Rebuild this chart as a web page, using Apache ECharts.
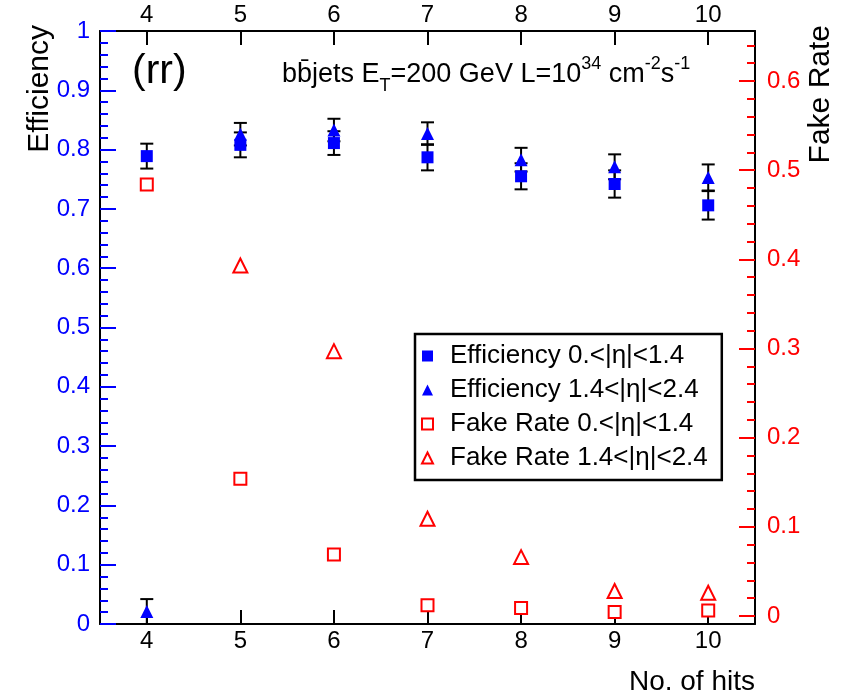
<!DOCTYPE html>
<html>
<head>
<meta charset="utf-8">
<script src="https://cdn.jsdelivr.net/npm/echarts@6/dist/echarts.min.js"></script>
<style>
  html, body { margin: 0; padding: 0; background: #ffffff; }
  #chart { width: 859px; height: 696px; }
</style>
</head>
<body>
<div id="chart"></div>
<script>
// Number of hits required on the track
const hits = [4, 5, 6, 7, 8, 9, 10];

// Efficiency, barrel region 0 < |eta| < 1.4
const effBarrel    = [0.789, 0.808, 0.811, 0.787, 0.755, 0.742, 0.706];
const effBarrelErr = [0.021, 0.021, 0.020, 0.022, 0.022, 0.023, 0.024];

// Efficiency, endcap region 1.4 < |eta| < 2.4
const effEndcap    = [0.021, 0.826, 0.833, 0.827, 0.783, 0.771, 0.753];
const effEndcapErr = [0.021, 0.019, 0.019, 0.019, 0.020, 0.021, 0.022];

// Fake rate (right-hand scale)
const fakeBarrel = [0.484, 0.154, 0.069, 0.012, 0.009, 0.0045, 0.006];
const fakeEndcap = [null, 0.393, 0.297, 0.109, 0.066, 0.028, 0.026];

// Tick values of the right-hand axis
const fakeMajorTicks = [0, 0.1, 0.2, 0.3, 0.4, 0.5, 0.6];
const fakeMinorTicks = [0.02, 0.04, 0.06, 0.08, 0.12, 0.14, 0.16, 0.18, 0.22, 0.24, 0.26, 0.28,
                        0.32, 0.34, 0.36, 0.38, 0.42, 0.44, 0.46, 0.48, 0.52, 0.54, 0.56, 0.58,
                        0.62, 0.64];

const names = [
  'Efficiency 0.<|η|<1.4',
  'Efficiency 1.4<|η|<2.4',
  'Fake Rate 0.<|η|<1.4',
  'Fake Rate 1.4<|η|<2.4'
];

const FONT = '"Liberation Sans", Arial, Helvetica, sans-serif';
const BLUE = '#0000ff';
const RED = '#ff0000';

function pairs(ys) {
  return hits.map((h, i) => ys[i] == null ? null : [h, ys[i]]).filter(p => p);
}
function bars(ys, errs) {
  return hits.map((h, i) => [h, Math.max(0, ys[i] - errs[i]), ys[i] + errs[i]]);
}

// Vertical error bar with end caps
function errorBar(params, api) {
  const x = api.value(0);
  const top = api.coord([x, api.value(2)]);
  const bot = api.coord([x, api.value(1)]);
  const half = 6.5;
  const st = { stroke: '#000000', lineWidth: 2 };
  return {
    type: 'group',
    children: [
      { type: 'line', shape: { x1: top[0], y1: top[1], x2: bot[0], y2: bot[1] }, style: st },
      { type: 'line', shape: { x1: top[0] - half, y1: top[1], x2: top[0] + half, y2: top[1] }, style: st },
      { type: 'line', shape: { x1: bot[0] - half, y1: bot[1], x2: bot[0] + half, y2: bot[1] }, style: st }
    ]
  };
}

const labelFmt = v => String(parseFloat(Number(v).toFixed(3)));

const chart = echarts.init(document.getElementById('chart'), null, { renderer: 'canvas' });

chart.setOption({
  animation: false,
  backgroundColor: '#ffffff',
  textStyle: { fontFamily: FONT },
  grid: { left: 100, right: 104, top: 31, bottom: 70, containLabel: false },
  legend: {
    orient: 'vertical',
    left: 415,
    top: 334,
    selectedMode: false,
    data: names,
    itemWidth: 11,
    itemHeight: 11,
    itemGap: 8,
    padding: [9, 14, 9, 6],
    borderColor: '#000000',
    borderWidth: 2.5,
    backgroundColor: '#ffffff',
    textStyle: { fontFamily: FONT, fontSize: 26, color: '#000000', padding: [0, 0, 0, 12], lineHeight: 22 }
  },
  xAxis: [
    {
      type: 'value', position: 'bottom', min: 3.5, max: 10.5,
      axisLine: { onZero: false, lineStyle: { color: '#000000', width: 2 } },
      axisTick: { inside: true, length: 14, customValues: hits, lineStyle: { color: '#000000', width: 2 } },
      axisLabel: { customValues: hits, fontSize: 24, color: '#000000', margin: 5, fontFamily: FONT },
      splitLine: { show: false },
      name: 'No. of hits',
      nameLocation: 'end',
      nameGap: 0,
      nameTextStyle: { fontSize: 28, color: '#000000', align: 'right', verticalAlign: 'top', padding: [44, 0, 0, 0], fontFamily: FONT }
    },
    {
      type: 'value', position: 'top', min: 3.5, max: 10.5,
      axisLine: { onZero: false, lineStyle: { color: '#000000', width: 2 } },
      axisTick: { inside: true, length: 14, customValues: hits, lineStyle: { color: '#000000', width: 2 } },
      axisLabel: { customValues: hits, fontSize: 24, color: '#000000', margin: 4, fontFamily: FONT },
      splitLine: { show: false }
    }
  ],
  yAxis: [
    {
      type: 'value', position: 'left', min: 0, max: 1, interval: 0.1,
      axisLine: { onZero: false, lineStyle: { color: '#000000', width: 2 } },
      axisTick: { inside: true, length: 16, lineStyle: { color: BLUE, width: 2 } },
      minorTick: { show: true, splitNumber: 5, length: 8, lineStyle: { color: BLUE, width: 2 } },
      axisLabel: { fontSize: 24, color: BLUE, margin: 10, formatter: labelFmt, fontFamily: FONT },
      splitLine: { show: false },
      minorSplitLine: { show: false }
    },
    {
      type: 'value', position: 'right', min: -0.009, max: 0.656,
      axisLine: { onZero: false, lineStyle: { color: '#000000', width: 2 } },
      axisTick: { inside: true, length: 16, customValues: fakeMajorTicks, lineStyle: { color: RED, width: 2 } },
      axisLabel: { customValues: fakeMajorTicks, fontSize: 24, color: RED, margin: 12, formatter: labelFmt, fontFamily: FONT },
      splitLine: { show: false }
    },
    {
      type: 'value', position: 'right', min: -0.009, max: 0.656,
      axisLine: { show: false, onZero: false },
      axisTick: { inside: true, length: 8, customValues: fakeMinorTicks, lineStyle: { color: RED, width: 2 } },
      axisLabel: { show: false },
      splitLine: { show: false }
    }
  ],
  graphic: [
    {
      type: 'text', x: 40, y: 25, rotation: Math.PI / 2,
      style: { text: 'Efficiency', font: '30px ' + FONT, fill: '#000000', align: 'right', verticalAlign: 'middle' }
    },
    {
      type: 'text', x: 821, y: 25, rotation: Math.PI / 2,
      style: { text: 'Fake Rate', font: '30px ' + FONT, fill: '#000000', align: 'right', verticalAlign: 'middle' }
    },
    {
      type: 'text', x: 132, y: 72,
      style: { text: '(rr)', font: '41px ' + FONT, fill: '#000000', align: 'left', verticalAlign: 'middle' }
    },
    {
      type: 'text', x: 282, y: 75,
      style: {
        text: 'bb\u0304jets E{sub|T}=200 GeV L=10{sup|34} cm{sup|-2}s{sup|-1}',
        font: '27px ' + FONT, fill: '#000000', align: 'left', verticalAlign: 'middle',
        lineHeight: 40,
        rich: {
          sub: { fontSize: 18, fontFamily: FONT, verticalAlign: 'bottom', lineHeight: 40, fill: '#000000' },
          sup: { fontSize: 18, fontFamily: FONT, verticalAlign: 'top', lineHeight: 40, fill: '#000000' }
        }
      }
    }
  ],
  series: [
    {
      type: 'custom', name: 'errBarrel', xAxisIndex: 0, yAxisIndex: 0,
      renderItem: errorBar, data: bars(effBarrel, effBarrelErr),
      encode: { x: 0, y: [1, 2] }, z: 1, silent: true
    },
    {
      type: 'custom', name: 'errEndcap', xAxisIndex: 0, yAxisIndex: 0,
      renderItem: errorBar, data: bars(effEndcap, effEndcapErr),
      encode: { x: 0, y: [1, 2] }, z: 1, silent: true
    },
    {
      type: 'scatter', name: names[0], xAxisIndex: 0, yAxisIndex: 0,
      data: pairs(effBarrel), symbol: 'rect', symbolSize: 12,
      itemStyle: { color: BLUE, opacity: 1 }, z: 3
    },
    {
      type: 'scatter', name: names[1], xAxisIndex: 0, yAxisIndex: 0,
      data: pairs(effEndcap), symbol: 'triangle', symbolSize: 13,
      itemStyle: { color: BLUE, opacity: 1 }, z: 4
    },
    {
      type: 'scatter', name: names[2], xAxisIndex: 0, yAxisIndex: 1,
      data: pairs(fakeBarrel), symbol: 'rect', symbolSize: 12,
      itemStyle: { color: '#ffffff', borderColor: RED, borderWidth: 2, opacity: 1 }, z: 3
    },
    {
      type: 'scatter', name: names[3], xAxisIndex: 0, yAxisIndex: 1,
      data: pairs(fakeEndcap), symbol: 'triangle', symbolSize: 14,
      itemStyle: { color: '#ffffff', borderColor: RED, borderWidth: 2, opacity: 1 }, z: 3
    }
  ]
});
</script>
</body>
</html>
